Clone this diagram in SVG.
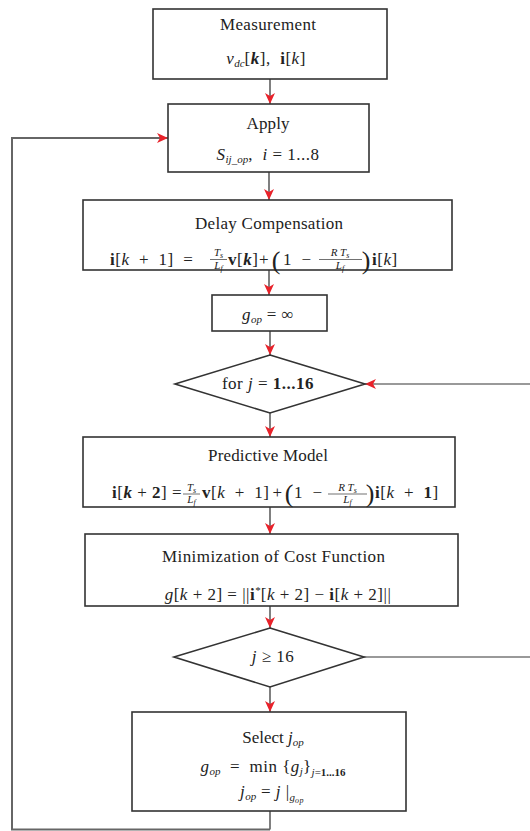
<svg xmlns="http://www.w3.org/2000/svg" width="530" height="831" viewBox="0 0 530 831" font-family="'Liberation Serif', 'DejaVu Serif', serif">
<defs>
<style>
.box{fill:#fff;stroke:#333;stroke-width:1.6}
.ln{stroke:#2b2b2b;stroke-width:1.2;fill:none}
.fb{stroke:#666;stroke-width:2;fill:none}
.fr{stroke:#777;stroke-width:1.6;fill:none}
.bar{stroke:#333;stroke-width:0.7}
.t{font-family:'Liberation Serif','DejaVu Serif',serif;font-size:16px;fill:#222;text-anchor:middle}
.l{text-anchor:start}
.h{font-size:17px}
.f{font-size:17px;letter-spacing:0.5px}
.it{font-style:italic}
.b{font-weight:bold}
.s{font-size:11px;letter-spacing:0}
.ss{font-size:8px}
.p{font-size:26px}
</style>
<marker id="ah" markerWidth="12" markerHeight="10" refX="11" refY="5" orient="auto" markerUnits="userSpaceOnUse">
<path d="M0,0 L11,5 L0,10 L3,5 z" fill="#e8222a"/>
</marker>
</defs>
<rect width="530" height="831" fill="#fff"/>

<g id="connectors">
<path class="ln" d="M270,79 V104" marker-end="url(#ah)"/>
<path class="ln" d="M269,172 V200" marker-end="url(#ah)"/>
<path class="ln" d="M269,270 V295" marker-end="url(#ah)"/>
<path class="ln" d="M270,331 V355" marker-end="url(#ah)"/>
<path class="ln" d="M270,413 V437" marker-end="url(#ah)"/>
<path class="ln" d="M270,507 V534" marker-end="url(#ah)"/>
<path class="ln" d="M270,606 V628" marker-end="url(#ah)"/>
<path class="ln" d="M270,687 V712" marker-end="url(#ah)"/>
<path class="ln" d="M270,811 V829.5"/>
<path class="fb" d="M270,829.5 H12 V138 H168" marker-end="url(#ah)"/>
<path class="fr" d="M530,384 H365" marker-end="url(#ah)"/>
<path class="fr" d="M364,657 H530"/>
</g>

<g id="measurement">
<rect class="box" x="153" y="9" width="234" height="70"/>
<text class="t h" x="268" y="30" textLength="96">Measurement</text>
<text class="t f" x="266" y="64"><tspan class="it">v</tspan><tspan class="s it" dy="3">dc</tspan><tspan dy="-3">[</tspan><tspan class="b it">k</tspan>],&#160; <tspan class="b">i</tspan>[<tspan class="it">k</tspan>]</text>
</g>

<g id="apply">
<rect class="box" x="168" y="104" width="201" height="68"/>
<text class="t h" x="268" y="129" textLength="43">Apply</text>
<text class="t f" x="268" y="160"><tspan class="it">S</tspan><tspan class="s it" dy="3">ij_op</tspan><tspan dy="-3">,&#160; </tspan><tspan class="it">i</tspan>&#160;=&#160;1...8</text>
</g>

<g id="delay">
<rect class="box" x="83" y="200" width="369" height="70"/>
<text class="t h" x="269" y="229" textLength="148">Delay Compensation</text>
<text class="t f l" x="110" y="265"><tspan class="b">i</tspan>[<tspan class="it">k</tspan>&#160;&#160;+&#160;&#160;1]&#160;&#160;=</text>
<text class="t s it" x="218.5" y="256">T<tspan class="ss" dy="1.5">s</tspan></text>
<line class="bar" x1="210" y1="259.5" x2="227" y2="259.5"/>
<text class="t s it" x="218.5" y="269">L<tspan class="ss" dy="1.5">f</tspan></text>
<text class="t f l" x="228" y="265"><tspan class="b">v</tspan>[<tspan class="b it">k</tspan>]</text>
<text class="t f" x="264" y="265">+</text>
<text class="t p" x="276" y="269">(</text>
<text class="t f l" x="283" y="265">1&#160;&#160;−</text>
<text class="t s it" x="340" y="256">R T<tspan class="ss" dy="1.5">s</tspan></text>
<line class="bar" x1="319" y1="259.5" x2="362" y2="259.5"/>
<text class="t s it" x="340" y="269">L<tspan class="ss" dy="1.5">f</tspan></text>
<text class="t p" x="366" y="269">)</text>
<text class="t f l" x="372" y="265"><tspan class="b">i</tspan>[<tspan class="it">k</tspan>]</text>
</g>

<g id="gop-init">
<rect class="box" x="212" y="295" width="115" height="36"/>
<text class="t f" x="268" y="320"><tspan class="it">g</tspan><tspan class="s it" dy="3">op</tspan><tspan dy="-3">&#160;=&#160;∞</tspan></text>
</g>

<g id="for-loop">
<polygon class="box" points="270,355 365,384 270,413 175,384"/>
<text class="t f" x="268" y="389">for <tspan class="it">j</tspan>&#160;=&#160;<tspan class="b">1...16</tspan></text>
</g>

<g id="predictive">
<rect class="box" x="83" y="437" width="372" height="70"/>
<text class="t h" x="268" y="461" textLength="120">Predictive Model</text>
<text class="t f l" x="112" y="498"><tspan class="b">i</tspan>[<tspan class="b it">k</tspan>&#160;+&#160;<tspan class="b">2</tspan>]&#160;=</text>
<text class="t s it" x="191.5" y="491">T<tspan class="ss" dy="1.5">s</tspan></text>
<line class="bar" x1="183" y1="494" x2="200" y2="494"/>
<text class="t s it" x="191.5" y="503">L<tspan class="ss" dy="1.5">f</tspan></text>
<text class="t f l" x="202" y="498"><tspan class="b">v</tspan>[<tspan class="it">k</tspan>&#160;&#160;+&#160;&#160;1]</text>
<text class="t f" x="277.5" y="498">+</text>
<text class="t p" x="289" y="502">(</text>
<text class="t f l" x="294" y="498">1&#160;&#160;−</text>
<text class="t s it" x="347.5" y="491">R T<tspan class="ss" dy="1.5">s</tspan></text>
<line class="bar" x1="328" y1="494" x2="367" y2="494"/>
<text class="t s it" x="347.5" y="503">L<tspan class="ss" dy="1.5">f</tspan></text>
<text class="t p" x="370" y="502">)</text>
<text class="t f l" x="375" y="498"><tspan class="b">i</tspan>[<tspan class="it">k</tspan>&#160;&#160;+&#160;&#160;<tspan class="b">1</tspan>]</text>
</g>

<g id="minimization">
<rect class="box" x="85" y="534" width="373" height="72"/>
<text class="t h" x="273.5" y="562" textLength="223">Minimization of Cost Function</text>
<text class="t f" x="278" y="600"><tspan class="it">g</tspan>[<tspan class="it">k</tspan>&#160;+&#160;2]&#160;=&#160;||<tspan class="b">i</tspan><tspan class="s" dy="-6">*</tspan><tspan dy="6">[</tspan><tspan class="it">k</tspan>&#160;+&#160;2]&#160;−&#160;<tspan class="b">i</tspan>[<tspan class="it">k</tspan>&#160;+&#160;2]||</text>
</g>

<g id="check">
<polygon class="box" points="270,628 364,657 270,687 174,657"/>
<text class="t f" x="273" y="662"><tspan class="it">j</tspan>&#160;≥&#160;16</text>
</g>

<g id="select">
<rect class="box" x="132" y="712" width="274" height="99"/>
<text class="t h" x="273" y="743">Select <tspan class="it">j</tspan><tspan class="s it" dy="3">op</tspan></text>
<text class="t f" x="273" y="772"><tspan class="it">g</tspan><tspan class="s it" dy="3">op</tspan><tspan dy="-3">&#160;&#160;=&#160;&#160;min&#160;{</tspan><tspan class="it">g</tspan><tspan class="s it" dy="3">j</tspan><tspan dy="-3">}</tspan><tspan class="s" dy="4"><tspan class="it">j</tspan>=<tspan class="b">1...16</tspan></tspan></text>
<text class="t f" x="272" y="797"><tspan class="it">j</tspan><tspan class="s it" dy="3">op</tspan><tspan dy="-3">&#160;=&#160;</tspan><tspan class="it">j</tspan> |<tspan class="s it" dy="4">g</tspan><tspan class="ss it" dy="2">op</tspan></text>
</g>
</svg>
